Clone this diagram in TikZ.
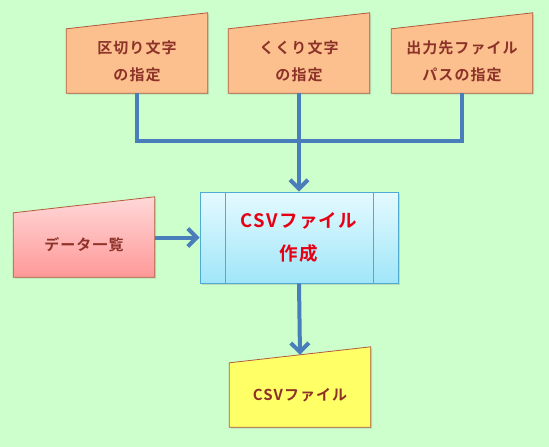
\documentclass[tikz,border=0pt]{standalone}
\usepackage{fontspec}
\newfontfamily\jpfont{Noto Sans CJK JP}[BoldFont={Noto Sans CJK JP Bold}, LetterSpace=7]
\usetikzlibrary{calc}
\usetikzlibrary{backgrounds,shadows}
\usetikzlibrary{arrows.meta}
\definecolor{bgGreen}{HTML}{CCFFCC}
\definecolor{peach}{HTML}{FCC08E}
\definecolor{peachEdge}{HTML}{B45A3C}
\definecolor{labelBrown}{HTML}{8C3228}
\definecolor{pinkTop}{HTML}{FFD8D8}
\definecolor{pinkBot}{HTML}{FF9898}
\definecolor{cyanTop}{HTML}{E4FAFF}
\definecolor{cyanBot}{HTML}{A0E6F8}
\definecolor{cyanEdge}{HTML}{50AAD2}
\definecolor{procRed}{HTML}{E60014}
\definecolor{lemon}{HTML}{FFFF66}
\definecolor{flowBlue}{HTML}{4A7EBB}
\tikzset{
  every picture/.style={
    x=1pt, y=-1pt
  },
  label box/.style={
    minimum width=141pt, minimum height=64pt,
    inner sep=0pt, align=center, text=labelBrown,
    font=\jpfont\bfseries\fontsize{15}{27}\selectfont
  },
  proc box/.style={
    minimum width=198pt, minimum height=91pt,
    inner sep=0pt, align=center, text=procRed,
    draw=cyanEdge, line width=0.8pt,
    top color=cyanTop, bottom color=cyanBot,
    drop shadow={opacity=0.25, shadow xshift=1.5pt, shadow yshift=-1.5pt},
    font=\jpfont\bfseries\fontsize{18.5}{33}\selectfont
  },
  slant/.style={
    line width=0.8pt,
    drop shadow={opacity=0.25, shadow xshift=1.5pt, shadow yshift=-1.5pt}
  },
  flow/.style={
    line width=4pt, draw=flowBlue
  },
  flow arrow/.style={
    flow, -{Straight Barb[length=9pt, width=18pt]}
  }
}
% manual input outline round a label box
\newcommand\slantbox[2]{%
  \path[slant, #2] (#1.south west) -- (#1.north west)
    -- ($(#1.north east)+(0,-16)$) -- (#1.south east) -- cycle;}

\begin{document}
\begin{tikzpicture}
  \node[label box] (delim) at (137,61) {区切り文字\\の指定};
  \node[label box] (quote) at (299,61) {くくり文字\\の指定};
  \node[label box] (dest) at (462,61) {出力先ファイル\\パスの指定};
  \node[label box] (data) at (84,245) {データ一覧};
  \node[proc box] (proc) at (299,237.5) {CSVファイル\\作成};
  \node[label box] (out) at (300,395) {CSVファイル};
  \draw[cyanEdge, line width=0.8pt] ($(proc.north west)+(26,0)$) -- ($(proc.south west)+(26,0)$);
  \draw[cyanEdge, line width=0.8pt] ($(proc.north east)+(-25,0)$) -- ($(proc.south east)+(-25,0)$);
  \begin{scope}[on background layer]
    \fill[bgGreen] (0,0) rectangle (549,447);
    \slantbox{delim}{fill=peach, draw=peachEdge}
    \slantbox{quote}{fill=peach, draw=peachEdge}
    \slantbox{dest}{fill=peach, draw=peachEdge}
    \slantbox{data}{top color=pinkTop, bottom color=pinkBot, draw=peachEdge}
    \slantbox{out}{fill=lemon, draw=peachEdge}
  \end{scope}
  \coordinate (hub) at (299,141);
  \coordinate (outtop) at ($(out.north)+(0,-8)$);
  \draw[flow] (delim.south) |- (hub) -| (dest.south);
  \draw[flow arrow] (quote.south) -- (proc.north);
  \draw[flow arrow] (proc.west -| data.east) -- (proc.west);
  \draw[flow arrow] (proc.south) -- (outtop);
\end{tikzpicture}
\end{document}
